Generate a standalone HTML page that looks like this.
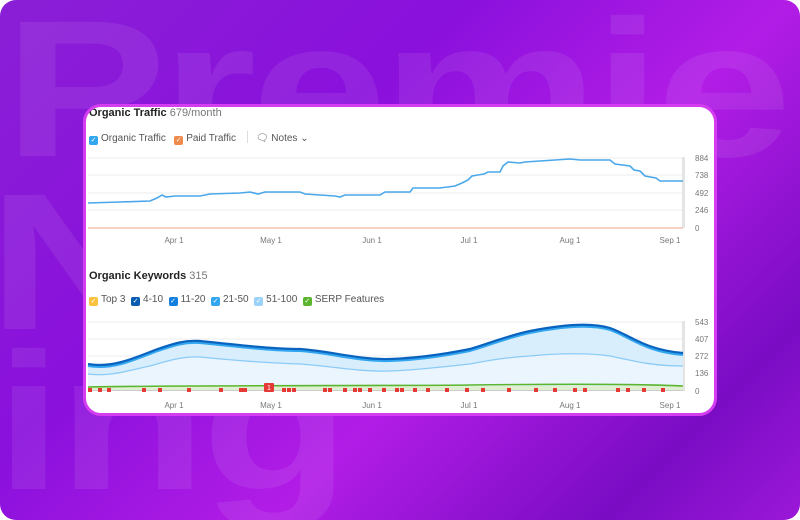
<!DOCTYPE html>
<html><head><style>
html,body{margin:0;width:800px;height:520px;overflow:hidden;background:#fff;font-family:"Liberation Sans",sans-serif}
.bg{position:absolute;left:0;top:0;width:800px;height:520px;border-radius:16px;overflow:hidden;background:linear-gradient(135deg,#8a1fd6 0%,#8a10dc 35%,#b21de6 60%,#7a0cc4 85%,#9b18d8 100%)}
.big{position:absolute;font-weight:bold;color:rgba(255,255,255,0.08);font-size:195px;line-height:1;letter-spacing:-4px;white-space:nowrap;transform:scaleX(1.25);transform-origin:0 0}
.card{position:absolute;left:83px;top:104px;width:628px;height:306px;background:#fff;border:3px solid #d63cf0;border-radius:18px;overflow:hidden}
.t{position:absolute;font-size:10px;color:#333;white-space:nowrap}
.cb{display:inline-block;width:9px;height:9px;border-radius:2px;vertical-align:-1px;margin-right:3px;color:#fff;font-size:7px;line-height:9px;text-align:center}
</style></head><body>
<div class="bg">
<div class="big" style="left:4px;top:-8px">Premie</div>
<div class="big" style="left:-12px;top:165px">Net</div>
<div class="big" style="left:-5px;top:325px">ing</div>
</div>
<div class="card">
<div class="t" style="left:3px;top:0px;font-weight:bold;font-size:11px;color:#222">Organic Traffic <span style="font-weight:normal;color:#777">679/month</span></div>
<div class="t" style="left:3px;top:24px;color:#555"><span class="cb" style="background:#33a6f0">✓</span>Organic Traffic &nbsp; <span class="cb" style="background:#f08a4b">✓</span>Paid Traffic <span style="display:inline-block;width:1px;height:12px;background:#ddd;margin:0 8px;vertical-align:-2px"></span>🗨 Notes ⌄</div>
<div class="t" style="left:3px;top:163px;font-weight:bold;font-size:11px;color:#222">Organic Keywords <span style="font-weight:normal;color:#777">315</span></div>
<div class="t" style="left:3px;top:187px;color:#555"><span class="cb" style="background:#fbc140">✓</span>Top 3 &nbsp;<span class="cb" style="background:#0a5cb0">✓</span>4-10 &nbsp;<span class="cb" style="background:#1380e0">✓</span>11-20 &nbsp;<span class="cb" style="background:#33a6f0">✓</span>21-50 &nbsp;<span class="cb" style="background:#9bd2fa">✓</span>51-100 &nbsp;<span class="cb" style="background:#5bb52e">✓</span>SERP Features</div>
</div>
<svg style="position:absolute;left:0;top:0" width="800" height="520" font-family="Liberation Sans" font-size="8" fill="#777">
<g stroke="#ececec" stroke-width="1">
<line x1="88" x2="683" y1="158" y2="158"/><line x1="88" x2="683" y1="175" y2="175"/><line x1="88" x2="683" y1="193" y2="193"/><line x1="88" x2="683" y1="210" y2="210"/>
<line x1="88" x2="683" y1="322" y2="322"/><line x1="88" x2="683" y1="339" y2="339"/><line x1="88" x2="683" y1="356" y2="356"/><line x1="88" x2="683" y1="373" y2="373"/>
</g>
<rect x="682" y="157" width="3" height="71" fill="#e4e4e4"/><rect x="682" y="321" width="3" height="70" fill="#e4e4e4"/>
<line x1="88" x2="683" y1="228" y2="228" stroke="#f2a585" stroke-width="1"/>
<polyline fill="none" stroke="#4aa8ea" stroke-width="1.6" points="88,203 120,202 150,201 157,198 162,195 166,197 175,196 200,196 210,194 240,193 250,192 258,194 265,192 300,192 305,194 335,196 340,197 345,195 380,195 385,192 410,192 413,188 440,188 455,186 462,183 468,180 472,176 478,175 484,174 488,172 500,172 503,166 508,162 520,163 525,162 540,161 555,160 570,159 580,160 600,160 610,160 615,164 630,166 634,170 640,171 645,176 656,178 660,181 683,181"/>
<g text-anchor="start"><text x="695" y="161">884</text><text x="695" y="178">738</text><text x="695" y="196">492</text><text x="695" y="213">246</text><text x="695" y="231">0</text>
<text x="695" y="325">543</text><text x="695" y="342">407</text><text x="695" y="359">272</text><text x="695" y="376">136</text><text x="695" y="394">0</text></g>
<g text-anchor="middle"><text x="174" y="243">Apr 1</text><text x="271" y="243">May 1</text><text x="372" y="243">Jun 1</text><text x="469" y="243">Jul 1</text><text x="570" y="243">Aug 1</text><text x="670" y="243">Sep 1</text>
<text x="174" y="408">Apr 1</text><text x="271" y="408">May 1</text><text x="372" y="408">Jun 1</text><text x="469" y="408">Jul 1</text><text x="570" y="408">Aug 1</text><text x="670" y="408">Sep 1</text></g>
<path d="M88,364 C110,368 130,360 155,350 C175,343 185,340 200,341 C230,344 270,349 300,349 C330,351 360,360 390,359 C420,358 450,353 470,349 C490,343 510,335 530,331 C560,325 590,322 610,328 C630,335 645,350 683,353 L683,390 L88,390 Z" fill="#d8eefc"/>
<path d="M88,374 C110,377 130,370 150,366 C170,360 185,356 200,357 C230,360 270,363 300,364 C330,366 360,372 390,371 C420,370 450,366 470,364 C490,360 510,357 530,356 C560,353 590,353 610,356 C630,360 650,366 683,366 L683,390 L88,390 Z" fill="#eaf5fd"/>
<path d="M88,374 C110,377 130,370 150,366 C170,360 185,356 200,357 C230,360 270,363 300,364 C330,366 360,372 390,371 C420,370 450,366 470,364 C490,360 510,357 530,356 C560,353 590,353 610,356 C630,360 650,366 683,366" fill="none" stroke="#8ccbf6" stroke-width="1.3"/>
<path d="M88,364 C110,368 130,360 155,350 C175,343 185,340 200,341 C230,344 270,349 300,349 C330,351 360,360 390,359 C420,358 450,353 470,349 C490,343 510,335 530,331 C560,325 590,322 610,328 C630,335 645,350 683,353" fill="none" stroke="#33a6f0" stroke-width="3" transform="translate(0,1.5)"/>
<path d="M88,364 C110,368 130,360 155,350 C175,343 185,340 200,341 C230,344 270,349 300,349 C330,351 360,360 390,359 C420,358 450,353 470,349 C490,343 510,335 530,331 C560,325 590,322 610,328 C630,335 645,350 683,353" fill="none" stroke="#0a64bf" stroke-width="2.2"/>
<rect x="88" y="386" width="595" height="4" fill="#dff0d2"/>
<path d="M88,387 C200,385 400,386 470,385 C560,384 640,384 683,386" fill="none" stroke="#5bb52e" stroke-width="1.6"/>
<line x1="88" x2="683" y1="390.5" y2="390.5" stroke="#ccc"/>
<g fill="#e53935">
<rect x="88" y="388" width="4" height="4"/><rect x="98" y="388" width="4" height="4"/><rect x="107" y="388" width="4" height="4"/><rect x="142" y="388" width="4" height="4"/><rect x="158" y="388" width="4" height="4"/><rect x="187" y="388" width="4" height="4"/><rect x="219" y="388" width="4" height="4"/><rect x="239" y="388" width="4" height="4"/><rect x="243" y="388" width="4" height="4"/>
<rect x="264" y="383" width="10" height="9" rx="1"/><rect x="282" y="388" width="4" height="4"/><rect x="287" y="388" width="4" height="4"/><rect x="292" y="388" width="4" height="4"/>
<rect x="323" y="388" width="4" height="4"/><rect x="328" y="388" width="4" height="4"/><rect x="343" y="388" width="4" height="4"/><rect x="353" y="388" width="4" height="4"/><rect x="358" y="388" width="4" height="4"/><rect x="368" y="388" width="4" height="4"/><rect x="382" y="388" width="4" height="4"/><rect x="395" y="388" width="4" height="4"/><rect x="400" y="388" width="4" height="4"/><rect x="413" y="388" width="4" height="4"/><rect x="426" y="388" width="4" height="4"/><rect x="445" y="388" width="4" height="4"/><rect x="465" y="388" width="4" height="4"/><rect x="481" y="388" width="4" height="4"/><rect x="507" y="388" width="4" height="4"/><rect x="534" y="388" width="4" height="4"/><rect x="553" y="388" width="4" height="4"/><rect x="573" y="388" width="4" height="4"/><rect x="583" y="388" width="4" height="4"/><rect x="616" y="388" width="4" height="4"/><rect x="626" y="388" width="4" height="4"/><rect x="642" y="388" width="4" height="4"/><rect x="661" y="388" width="4" height="4"/>
</g>
<text x="269" y="390" fill="#fff" font-size="7" text-anchor="middle">1</text>
</svg>
</body></html>
